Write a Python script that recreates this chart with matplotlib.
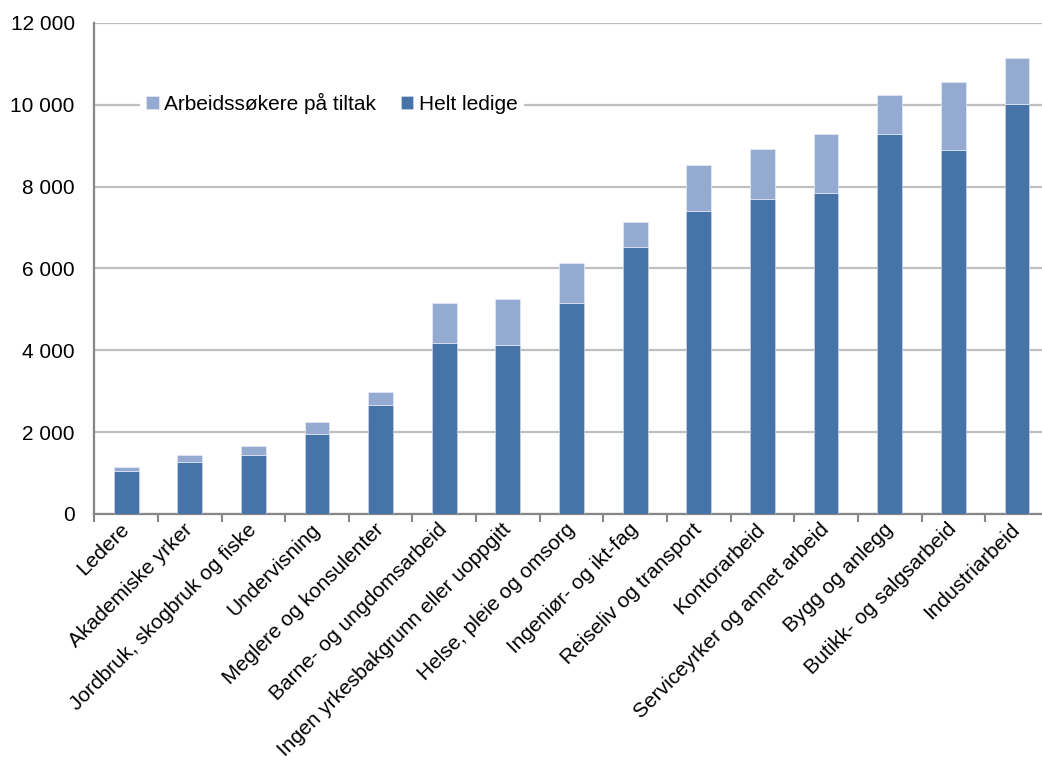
import numpy as np
import matplotlib
matplotlib.use('Agg')
import matplotlib.pyplot as plt
from matplotlib.ticker import FuncFormatter, FixedLocator

plt.rcParams['font.family'] = ['Liberation Sans', 'DejaVu Sans']

categories = ['Ledere', 'Akademiske yrker', 'Jordbruk, skogbruk og fiske',
              'Undervisning', 'Meglere og konsulenter', 'Barne- og ungdomsarbeid',
              'Ingen yrkesbakgrunn eller uoppgitt', 'Helse, pleie og omsorg',
              'Ingeniør- og ikt-fag', 'Reiseliv og transport', 'Kontorarbeid',
              'Serviceyrker og annet arbeid', 'Bygg og anlegg',
              'Butikk- og salgsarbeid', 'Industriarbeid']
helt_ledige = [1050, 1265, 1450, 1950, 2665, 4180, 4130, 5165,
               6530, 7415, 7700, 7855, 9290, 8900, 10015]
totalt = [1155, 1450, 1665, 2240, 2985, 5150, 5250, 6135,
          7145, 8535, 8925, 9285, 10230, 10570, 11150]
tiltak = [t - h for t, h in zip(totalt, helt_ledige)]

dark = '#4673A8'
light = '#95AAD1'

fig = plt.figure(figsize=(10.42, 7.69), dpi=100)
ax = fig.add_axes([0.0905, 0.3316, 0.916, 0.6385])

x = np.arange(len(categories))
w = 0.39
ax.bar(x, helt_ledige, w, color=dark, edgecolor='#c9d5e8', linewidth=0.5,
       label='Helt ledige', zorder=3)
ax.bar(x, tiltak, w, bottom=helt_ledige, color=light, edgecolor='#e6ecf6',
       linewidth=0.5, label='Arbeidssøkere på tiltak', zorder=3)

ax.set_xlim(-0.5, len(categories) - 0.5)
ax.set_ylim(0, 12000)
ax.set_yticks(range(0, 12001, 2000))
ax.yaxis.set_major_formatter(FuncFormatter(lambda v, p: f'{int(v):,}'.replace(',', ' ')))
ax.yaxis.grid(True, color='#BFBFBF', linewidth=1.6, zorder=0)
ax.set_axisbelow(True)

ax.set_xticks(x)
ax.set_xticklabels(categories, rotation=45, ha='right', va='center',
                   rotation_mode='anchor')
ax.xaxis.set_minor_locator(FixedLocator(np.arange(-0.5, len(categories), 1)))
ax.tick_params(axis='x', which='major', length=0, pad=9, labelsize=15)
ax.tick_params(axis='x', which='minor', length=6, width=1.5, color='#868686')
ax.tick_params(axis='y', length=0, pad=14, labelsize=15)

for s in ['top', 'right']:
    ax.spines[s].set_visible(False)
for s in ['left', 'bottom']:
    ax.spines[s].set_color('#868686')
    ax.spines[s].set_linewidth(1.6)

handles, labels = ax.get_legend_handles_labels()
leg = ax.legend(handles[::-1], labels[::-1], loc='center left',
                bbox_to_anchor=(0.037, 0.837), ncol=2, fontsize=15,
                frameon=True, facecolor='white', edgecolor='none',
                framealpha=1, fancybox=False, handlelength=0.6,
                handleheight=0.6, handletextpad=0.25, columnspacing=1.2,
                borderpad=0.3)

fig.savefig('out.png', dpi=100)
